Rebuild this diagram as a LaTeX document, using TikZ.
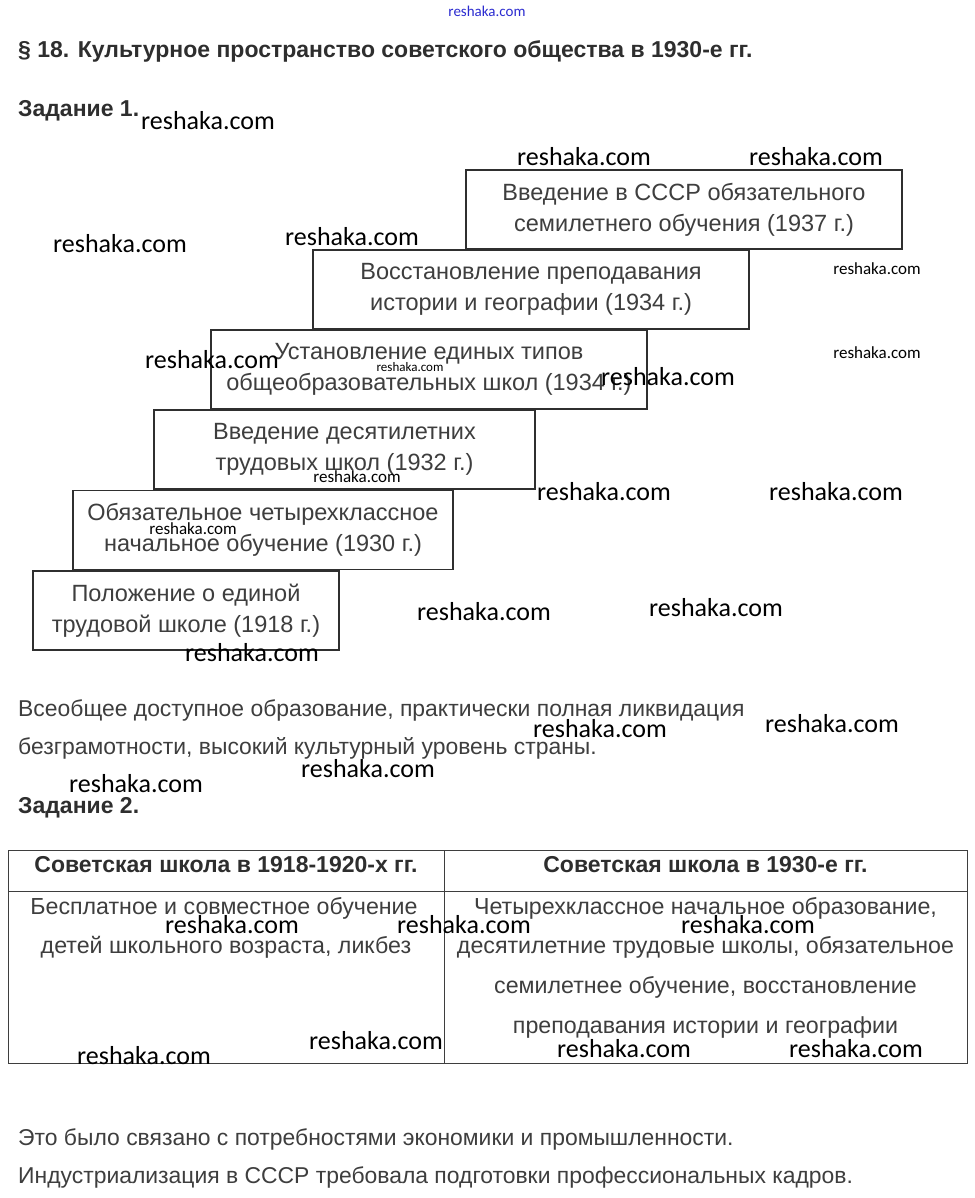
\documentclass[tikz,border=0pt]{standalone}
\usepackage{fontspec}
\setmainfont{Liberation Sans}
\newfontfamily\wmfont{Carlito}
\usetikzlibrary{positioning}
\definecolor{inkgray}{HTML}{3E3E3E}
\definecolor{headgray}{HTML}{2E2E2E}
\definecolor{boxline}{HTML}{2F2F2F}
\definecolor{wmblue}{HTML}{2B2BD0}
\newcommand{\bodyfont}{\fontsize{23.5}{31}\selectfont}
\newcommand{\parafont}{\fontsize{22.9}{31}\selectfont}
\newcommand{\cellfont}{\fontsize{23.2}{31}\selectfont}
\newcommand{\headfont}{\fontsize{23}{31}\selectfont\bfseries}
\tikzset{
  stepbox/.style={draw=boxline, line width=1.8pt, minimum height=79pt,
    align=center, inner sep=0pt, font=\bodyfont, text=inkgray},
  bodytext/.style={anchor=base west, inner sep=0pt, font=\parafont, text=inkgray},
  headtext/.style={anchor=base west, inner sep=0pt, font=\headfont, text=headgray},
  celltext/.style={anchor=base, inner sep=0pt, font=\cellfont, text=inkgray},
  wm/.style={inner sep=0pt, font=\wmfont\fontsize{26}{26}\selectfont},
  wmsmall/.style={inner sep=0pt, font=\wmfont\fontsize{17}{17}\selectfont},
  wmtiny/.style={inner sep=0pt, font=\wmfont\fontsize{13}{13}\selectfont}
}

\begin{document}
\begin{tikzpicture}[x=1pt, y=-1pt]
  \useasboundingbox[fill=white] (0,0) rectangle (974,1198);

  % heading
  \node[inner sep=0pt, font=\wmfont\fontsize{15}{15}\selectfont, text=wmblue] (site) at (487,11) {reshaka.com};
  \node[headtext] (title) at (18,58) {§ 18. Культурное пространство советского общества в 1930-е гг.};
  \node[headtext] (task1) at (18,117) {Задание 1.};

  % staircase of reforms
  \node[stepbox, minimum width=306pt] (s1918) at (186,610.5) {Положение о единой\\трудовой школе (1918 г.)};
  \node[stepbox, minimum width=380pt] (s1930) at (263,530) {Обязательное четырехклассное\\начальное обучение (1930 г.)};
  \node[stepbox, minimum width=381pt] (s1932) at (344.5,449.5) {Введение десятилетних\\трудовых школ (1932 г.)};
  \node[stepbox, minimum width=436pt] (s1934a) at (429,369.5) {Установление единых типов\\общеобразовательных школ (1934 г.)};
  \node[stepbox, minimum width=436pt] (s1934b) at (531,289.5) {Восстановление преподавания\\истории и географии (1934 г.)};
  \node[stepbox, minimum width=436pt] (s1937) at (684,209.5) {Введение в СССР обязательного\\семилетнего обучения (1937 г.)};

  \node[bodytext] (ans1a) at (18,716) {Всеобщее доступное образование, практически полная ликвидация};
  \node[bodytext] (ans1b) at (18,754) {безграмотности, высокий культурный уровень страны.};

  % task 2 table
  \node[headtext] (task2) at (18,813) {Задание 2.};
  \draw[draw=inkgray, line width=0.9pt] (8,850) rectangle (967,1063);
  \draw[draw=inkgray, line width=0.9pt] (8,891) -- (967,891);
  \draw[draw=inkgray, line width=0.9pt] (444,850) -- (444,1063);
  \node[headtext, anchor=base] (colA) at (226,872) {Советская школа в 1918-1920-х гг.};
  \node[headtext, anchor=base] (colB) at (705.5,872) {Советская школа в 1930-е гг.};
  \node[celltext] (a1) at (224,914) {Бесплатное и совместное обучение};
  \node[celltext] (a2) at (226,953) {детей школьного возраста, ликбез};
  \node[celltext] (b1) at (705.5,914) {Четырехклассное начальное образование,};
  \node[celltext] (b2) at (705.5,953) {десятилетние трудовые школы, обязательное};
  \node[celltext] (b3) at (705.5,993) {семилетнее обучение, восстановление};
  \node[celltext] (b4) at (705.5,1033) {преподавания истории и географии};

  \node[bodytext] (ans3a) at (18,1145) {Это было связано с потребностями экономики и промышленности.};
  \node[bodytext] (ans3b) at (18,1183) {Индустриализация в СССР требовала подготовки профессиональных кадров.};

  % watermarks
  \foreach \x/\y in {208/121, 584/157, 816/157, 120/244, 352/237, 212/360, 668/377,
    604/492, 836/492, 484/612, 716/608, 252/653, 600/729, 832/724, 368/769, 136/784,
    232/925, 464/925, 748/925, 376/1041, 144/1056, 624/1049, 856/1049}
    \node[wm] at (\x,\y) {reshaka.com};
  \foreach \x/\y in {877/269, 877/353, 357/477, 193/529}
    \node[wmsmall] at (\x,\y) {reshaka.com};
  \node[wmtiny] (wm8) at (410,367) {reshaka.com};
\end{tikzpicture}
\end{document}
